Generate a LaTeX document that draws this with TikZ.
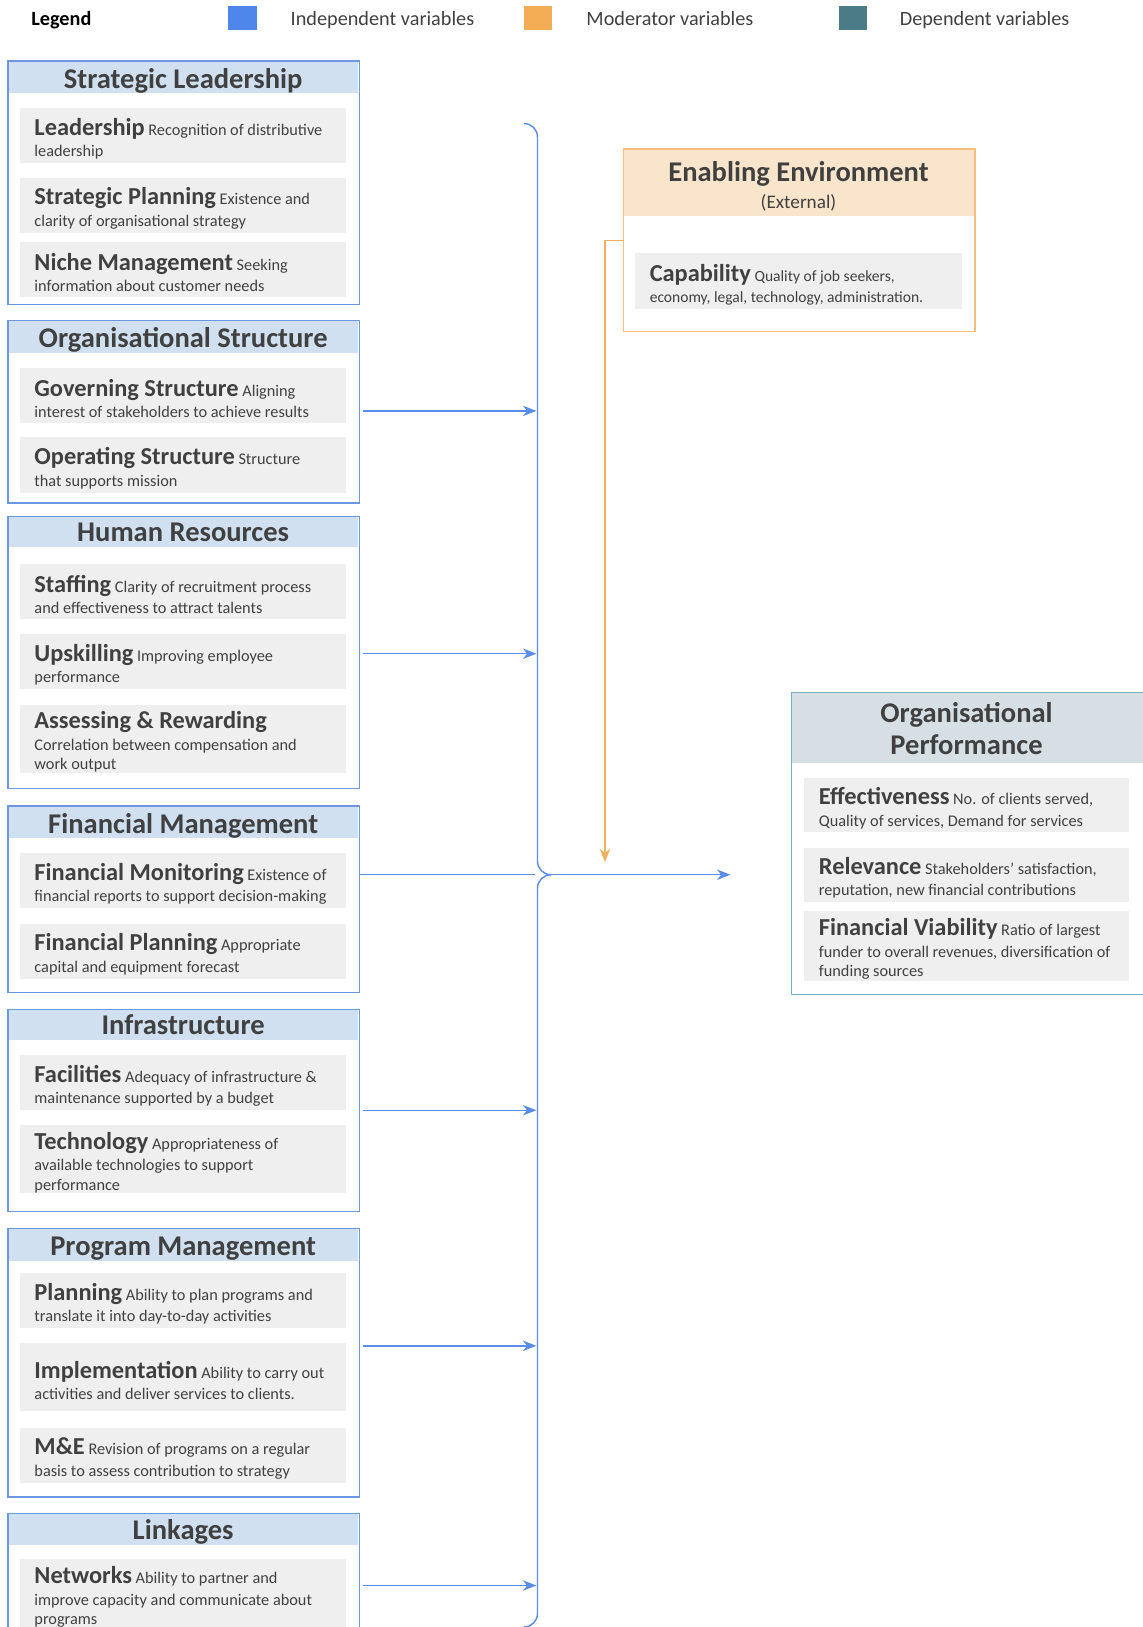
\documentclass[tikz,border=0pt]{standalone}
\usepackage{fontspec}
\setmainfont{Carlito}
\usetikzlibrary{arrows.meta}
\definecolor{lineblue}{HTML}{5A8CEB}
\definecolor{boxblue}{HTML}{6A96E4}
\definecolor{hdrblue}{HTML}{D0E0F0}
\definecolor{itemgray}{HTML}{EFEFEF}
\definecolor{txt}{HTML}{404040}
\definecolor{eeborder}{HTML}{F5BE7A}
\definecolor{eehdr}{HTML}{F9E5CB}
\definecolor{opborder}{HTML}{74AFC4}
\definecolor{ophdr}{HTML}{D6DFE4}
\definecolor{lineorange}{HTML}{F2AF5E}
\definecolor{legblue}{HTML}{4F86EC}
\definecolor{legorange}{HTML}{F2AD55}
\definecolor{legteal}{HTML}{4A7B87}
\newcommand\ttl[1]{{\fontsize{23.5}{28}\selectfont\bfseries #1}}
\newcommand\gitem[6]{%
  \node[gbox, minimum width=#4pt, minimum height=#5pt] (#1) at (#2,#3) {};
  \node[itxt] (#1-t) at ([xshift=14pt,yshift=-3pt]#1.west) {#6};}
\begin{document}
\begin{tikzpicture}[x=1pt,y=-1pt,
  secbox/.style={draw=boxblue, line width=1.3pt, rectangle, inner sep=0pt, minimum width=339pt, anchor=north west},
  gbox/.style={fill=itemgray, rectangle, inner sep=0pt, anchor=north west},
  itxt/.style={anchor=west, inner sep=0pt, align=left, text=txt, font=\fontsize{15.7}{19}\selectfont},
  sectitle/.style={anchor=base, inner sep=0pt, text=txt, font=\fontsize{27.5}{31}\selectfont\bfseries},
  legtxt/.style={anchor=base west, inner sep=0pt, text=txt, font=\fontsize{19.5}{23}\selectfont},
  bline/.style={draw=lineblue, line width=1.4pt},
  barrow/.style={bline, -{Stealth[length=13pt,width=10pt,inset=4pt]}},
  oarrow/.style={draw=lineorange, line width=1.4pt, -{Stealth[length=13pt,width=10pt,inset=4pt]}}
]
\useasboundingbox (0,0) rectangle (1101,1568);

% Legend
\node[legtxt, text=black, font=\fontsize{19.5}{23}\selectfont\bfseries] (leg) at (30,24.5) {Legend};
\node[fill=legblue, inner sep=0pt, minimum width=27pt, minimum height=23pt, anchor=north west] (sqb) at (220,6) {};
\node[legtxt] (lgb) at (280,24.5) {Independent variables};
\node[fill=legorange, inner sep=0pt, minimum width=27pt, minimum height=23pt, anchor=north west] (sqo) at (505,6) {};
\node[legtxt] (lgo) at (565,24.5) {Moderator variables};
\node[fill=legteal, inner sep=0pt, minimum width=27pt, minimum height=23pt, anchor=north west] (sqt) at (808,6) {};
\node[legtxt] (lgt) at (867,24.5) {Dependent variables};

% Strategic Leadership
\fill[hdrblue] (7.7,58.7) rectangle (345.3,90);
\node[secbox, minimum height=235pt] (sl) at (7,58) {};
\node[sectitle] (sl-t) at (176.5,85) {Strategic Leadership};
\gitem{lead}{19}{104}{314}{53}{\ttl{Leadership} Recognition of distributive\\[1.5pt]leadership}
\gitem{spl}{19}{171}{314}{53}{\ttl{Strategic Planning} Existence and\\[1.5pt]clarity of organisational strategy}
\gitem{niche}{19}{233}{314}{53}{\ttl{Niche Management} Seeking\\[1.5pt]information about customer needs}

% Organisational Structure
\fill[hdrblue] (7.7,308.7) rectangle (345.3,340);
\node[secbox, minimum height=176pt] (os) at (7,308) {};
\node[sectitle] (os-t) at (176.5,335) {Organisational Structure};
\gitem{gov}{19}{354}{314}{53}{\ttl{Governing Structure} Aligning\\[1.5pt]interest of stakeholders to achieve results}
\gitem{ops}{19}{421}{314}{54}{\ttl{Operating Structure} Structure\\[1.5pt]that supports mission}

% Human Resources
\fill[hdrblue] (7.7,497.7) rectangle (345.3,527);
\node[secbox, minimum height=262pt] (hr) at (7,497) {};
\node[sectitle] (hr-t) at (176.5,522) {Human Resources};
\gitem{staff}{19}{543}{314}{53}{\ttl{Staffing} Clarity of recruitment process\\[1.5pt]and effectiveness to attract talents}
\gitem{upsk}{19}{611}{314}{53}{\ttl{Upskilling} Improving employee\\[1.5pt]performance}
\gitem{assess}{19}{679}{314}{66}{\ttl{Assessing \& Rewarding}\\[1.5pt]Correlation between compensation and\\work output}

% Financial Management
\fill[hdrblue] (7.7,776.7) rectangle (345.3,808);
\node[secbox, minimum height=180pt] (fm) at (7,776) {};
\node[sectitle] (fm-t) at (176.5,803) {Financial Management};
\gitem{fmon}{19}{822}{314}{53}{\ttl{Financial Monitoring} Existence of\\[1.5pt]financial reports to support decision-making}
\gitem{fplan}{19}{890}{314}{53}{\ttl{Financial Planning} Appropriate\\[1.5pt]capital and equipment forecast}

% Infrastructure
\fill[hdrblue] (7.7,972.7) rectangle (345.3,1002);
\node[secbox, minimum height=195pt] (inf) at (7,972) {};
\node[sectitle] (inf-t) at (176.5,997) {Infrastructure};
\gitem{fac}{19}{1017}{314}{53}{\ttl{Facilities} Adequacy of infrastructure \&\\[1.5pt]maintenance supported by a budget}
\gitem{tech}{19}{1084}{314}{66}{\ttl{Technology} Appropriateness of\\[1.5pt]available technologies to support\\performance}

% Program Management
\fill[hdrblue] (7.7,1183.7) rectangle (345.3,1215);
\node[secbox, minimum height=259pt] (pm) at (7,1183) {};
\node[sectitle] (pm-t) at (176.5,1210) {Program Management};
\gitem{plan}{19}{1227}{314}{53}{\ttl{Planning} Ability to plan programs and\\[1.5pt]translate it into day-to-day activities}
\gitem{impl}{19}{1294}{314}{66}{\ttl{Implementation} Ability to carry out\\[1.5pt]activities and deliver services to clients.}
\gitem{me}{19}{1376}{314}{53}{\ttl{M\&E} Revision of programs on a regular\\[1.5pt]basis to assess contribution to strategy}

% Linkages
\fill[hdrblue] (7.7,1458.7) rectangle (345.3,1489);
\node[secbox, minimum height=150pt] (lk) at (7,1458) {};
\node[sectitle] (lk-t) at (176.5,1484) {Linkages};
\gitem{net}{19}{1502}{314}{68}{\ttl{Networks} Ability to partner and\\[1.5pt]improve capacity and communicate about\\programs}

% Enabling Environment
\fill[eehdr] (600.7,143.7) rectangle (938.3,208);
\node[draw=eeborder, line width=1.3pt, rectangle, inner sep=0pt, minimum width=339pt, minimum height=176pt, anchor=north west] (ee) at (600,143) {};
\node[sectitle] (ee-t) at (769.5,175) {Enabling Environment};
\node[anchor=base, inner sep=0pt, text=txt, font=\fontsize{18.5}{22}\selectfont] (ee-s) at (769.5,201) {(External)};
\gitem{cap}{612}{244}{315}{54}{\ttl{Capability} {\fontsize{15}{19}\selectfont Quality of job seekers,}\\[1.5pt]{\fontsize{15}{19}\selectfont economy, legal, technology, administration.}}

% Organisational Performance
\fill[ophdr] (762.7,667.7) rectangle (1102,735);
\node[draw=opborder, line width=1.3pt, rectangle, inner sep=0pt, minimum width=340pt, minimum height=291pt, anchor=north west] (op) at (762,667) {};
\node[sectitle] (op-t1) at (931.5,696) {Organisational};
\node[sectitle] (op-t2) at (931.5,727) {Performance};
\gitem{eff}{775}{749.5}{313}{52.5}{\ttl{Effectiveness} No. of clients served,\\[1.5pt]Quality of services, Demand for services}
\gitem{rel}{775}{817}{313}{52}{\ttl{Relevance} Stakeholders’ satisfaction,\\[1.5pt]reputation, new financial contributions}
\gitem{fv}{775}{878}{313}{67}{\ttl{Financial Viability} Ratio of largest\\[1.5pt]funder to overall revenues, diversification of\\funding sources}

% Brace
\coordinate (btop) at (505,119);
\coordinate (bmid) at (531,843);
\coordinate (bcor) at (518,1568);
\coordinate (bbot) at (505,1568);
\draw[bline, rounded corners=13pt] (btop) -- ++(13,0) |- (bmid);
\draw[bline, rounded corners=13pt] (bmid) -| (bcor) -- (bbot);

% Incoming connectors
\coordinate (in-os) at (517,396);
\coordinate (in-hr) at (517,630);
\coordinate (in-fm) at (516,843);
\coordinate (in-inf) at (517,1070);
\coordinate (in-pm) at (517,1297);
\coordinate (in-lk) at (517,1528);
\draw[barrow] ([xshift=3pt]os.east |- in-os) -- (in-os);
\draw[barrow] ([xshift=3pt]hr.east |- in-hr) -- (in-hr);
\draw[bline] (fm.east |- in-fm) -- (in-fm);
\draw[barrow] ([xshift=3pt]inf.east |- in-inf) -- (in-inf);
\draw[barrow] ([xshift=3pt]pm.east |- in-pm) -- (in-pm);
\draw[barrow] ([xshift=3pt]lk.east |- in-lk) -- (in-lk);

% Output arrow
\coordinate (optip) at (704,843);
\draw[barrow] (bmid) -- (optip);

% Moderator arrow
\coordinate (orn) at (583,831);
\draw[oarrow] (ee.west) -| (orn);
\end{tikzpicture}
\end{document}
